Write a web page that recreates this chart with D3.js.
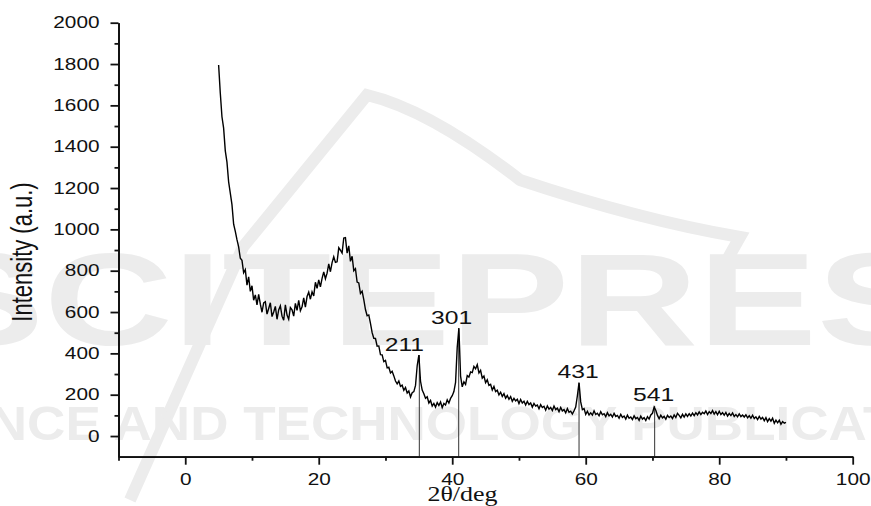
<!DOCTYPE html>
<html>
<head>
<meta charset="utf-8">
<script src="https://cdn.jsdelivr.net/npm/d3@7"></script>
<style>
  body { margin: 0; background: #fff; }
  svg { display: block; }
</style>
</head>
<body>
<div id="viz"></div>
<script>
// XRD pattern, intensity every 0.25 deg from 5.0 to 90.0
const angleStart = 5.0;
const angleStep = 0.25;
const intensity = [
  1795, 1660, 1545, 1490, 1380, 1325, 1230, 1175, 1120, 1025, 990, 950, 915, 860, 850, 790, 805, 730, 770, 700,
  727, 657, 683, 635, 685, 638, 599, 644, 650, 590, 617, 645, 578, 600, 627, 565, 610, 630, 580, 560,
  635, 585, 565, 622, 611, 580, 642, 608, 657, 606, 625, 668, 624, 675, 696, 662, 698, 678, 744, 715,
  756, 722, 763, 794, 761, 788, 833, 795, 839, 867, 840, 843, 911, 899, 885, 958, 960, 885, 920, 845,
  870, 800, 810, 745, 741, 690, 701, 660, 612, 582, 586, 545, 500, 473, 472, 435, 436, 394, 393, 360,
  366, 330, 333, 305, 313, 291, 266, 252, 266, 240, 246, 221, 235, 208, 218, 189, 210, 215, 245, 340,
  392, 265, 222, 205, 183, 190, 160, 172, 145, 158, 140, 162, 148, 165, 138, 158, 150, 175, 160, 182,
  195, 215, 260, 430, 522, 290, 238, 262, 250, 292, 285, 310, 307, 337, 325, 345, 305, 318, 280, 290,
  258, 272, 245, 250, 223, 240, 215, 222, 199, 212, 192, 205, 183, 196, 178, 191, 168, 182, 170, 178,
  157, 177, 160, 168, 150, 168, 152, 160, 140, 158, 145, 150, 132, 152, 138, 144, 125, 146, 130, 138,
  123, 145, 128, 135, 118, 138, 122, 128, 112, 133, 115, 120, 106, 122, 140, 195, 258, 165, 128, 133,
  105, 120, 102, 112, 101, 122, 104, 110, 98, 118, 103, 108, 94, 113, 98, 105, 92, 110, 95, 100,
  86, 105, 90, 97, 82, 101, 86, 92, 80, 98, 84, 90, 76, 96, 82, 89, 75, 94, 82, 102,
  110, 140, 125, 100, 84, 101, 88, 95, 81, 100, 90, 97, 85, 102, 90, 110, 100, 88, 105, 92,
  107, 95, 108, 97, 111, 99, 113, 102, 117, 104, 115, 108, 121, 104, 118, 109, 123, 106, 118, 103,
  120, 104, 113, 101, 114, 97, 109, 99, 112, 95, 104, 93, 107, 94, 102, 92, 103, 88, 98, 86,
  101, 85, 93, 80, 95, 82, 90, 74, 89, 70, 84, 72, 86, 62, 77, 64, 76, 57, 70, 62,
  66
];

// indexed reflections
const peakAngles = [35.07, 40.97, 59.0, 70.33];
const peakTops = [392, 522, 258, 146];
const peakLabels = ["211", "301", "431", "541"];

const xMajorTicks = [0, 20, 40, 60, 80, 100];
const xMinorTicks = [-10, 10, 30, 50, 70, 90];
const yMajorTicks = [0, 200, 400, 600, 800, 1000, 1200, 1400, 1600, 1800, 2000];
const yMinorTicks = [100, 300, 500, 700, 900, 1100, 1300, 1500, 1700, 1900];

const scan = intensity.map((v, i) => ({ angle: angleStart + i * angleStep, value: v }));

const W = 871, H = 506;
const stretch = "scale(1.3,1)";

const svg = d3.select("#viz")
              .append("svg")
              .attr("width", W)
              .attr("height", H);

svg.append("rect").attr("width", W).attr("height", H).attr("fill", "#fff");

// faint publisher watermark behind the plot
const wm = svg.append("g").attr("fill", "#ececec").attr("stroke", "none");
wm.append("path")
  .attr("d", "M130,500 L243,247 L367,95 Q430,110 520,180 Q640,220 740,237 L723,267")
  .attr("fill", "none")
  .attr("stroke", "#ececec")
  .attr("stroke-width", 12);
wm.append("text")
  .attr("x", -75)
  .attr("y", 345)
  .attr("textLength", 1130)
  .attr("lengthAdjust", "spacingAndGlyphs")
  .style("font-family", "'Liberation Sans', Arial, sans-serif")
  .style("font-weight", "bold")
  .style("font-size", "132px")
  .text("SCITEPRESS");
wm.append("text")
  .attr("x", -135)
  .attr("y", 440)
  .attr("textLength", 1160)
  .attr("lengthAdjust", "spacingAndGlyphs")
  .style("font-family", "'Liberation Sans', Arial, sans-serif")
  .style("font-weight", "bold")
  .style("font-size", "49px")
  .text("SCIENCE AND TECHNOLOGY PUBLICATIONS");

const x = d3.scaleLinear()
            .domain([-10, 100])
            .range([118.5, 852.7]);

const y = d3.scaleLinear()
            .domain([-100, 2000])
            .range([456.7, 22.7]);

// drop lines for the indexed peaks
svg.selectAll(".drop")
   .data(peakAngles)
   .enter()
   .append("line")
   .attr("class", "drop")
   .attr("x1", d => x(d))
   .attr("x2", d => x(d))
   .attr("y1", (d, i) => y(peakTops[i]))
   .attr("y2", y(-100))
   .attr("stroke", "#333")
   .attr("stroke-width", 1);

// the scan itself
const line = d3.line()
               .x(d => x(d.angle))
               .y(d => y(d.value));

svg.append("path")
   .datum(scan)
   .attr("d", line)
   .attr("fill", "none")
   .attr("stroke", "#000")
   .attr("stroke-width", 1.4)
   .attr("stroke-linejoin", "miter");

// peak labels
const labelShift = [-15, -7, -1, -1];
svg.selectAll(".peak-label")
   .data(peakLabels)
   .enter()
   .append("text")
   .attr("class", "peak-label")
   .attr("transform", (d, i) => `translate(${x(peakAngles[i]) + labelShift[i]},${y(peakTops[i]) - 4.5}) ${stretch}`)
   .attr("text-anchor", "middle")
   .style("font-family", "'Liberation Sans', Arial, sans-serif")
   .style("font-size", "19px")
   .style("fill", "#111")
   .text(d => d);

// axes
function styleAxis(g) {
  g.select(".domain").attr("stroke", "#111").attr("stroke-width", 1.8);
  g.selectAll(".tick line").attr("stroke", "#111").attr("stroke-width", 1.8);
  g.selectAll("text")
   .style("font-family", "'Liberation Sans', Arial, sans-serif")
   .style("font-size", "16px")
   .style("fill", "#111");
}

svg.append("g")
   .attr("transform", `translate(0,${y(-100)})`)
   .call(d3.axisBottom(x).tickValues(xMinorTicks).tickSize(4).tickSizeOuter(0).tickFormat(""))
   .call(styleAxis);

svg.append("g")
   .attr("transform", `translate(0,${y(-100)})`)
   .call(d3.axisBottom(x).tickValues(xMajorTicks).tickSize(8).tickPadding(9).tickSizeOuter(0).tickFormat(d3.format("d")))
   .call(styleAxis)
   .selectAll("text")
   .attr("transform", stretch);

svg.append("g")
   .attr("transform", `translate(${x(-10)},0)`)
   .call(d3.axisLeft(y).tickValues(yMinorTicks).tickSize(4).tickSizeOuter(0).tickFormat(""))
   .call(styleAxis);

svg.append("g")
   .attr("transform", `translate(${x(-10)},0)`)
   .call(d3.axisLeft(y).tickValues(yMajorTicks).tickSize(8).tickPadding(6.6).tickSizeOuter(0).tickFormat(d3.format("d")))
   .call(styleAxis)
   .selectAll("text")
   .attr("transform", stretch);

// axis titles
svg.append("text")
   .attr("transform", `translate(22,252) ${stretch} rotate(-90)`)
   .attr("text-anchor", "middle")
   .attr("dy", "0.35em")
   .style("font-family", "'Liberation Sans', Arial, sans-serif")
   .style("font-size", "22px")
   .style("fill", "#111")
   .text("Intensity (a.u.)");

svg.append("text")
   .attr("transform", `translate(462.5,501) ${stretch}`)
   .attr("text-anchor", "middle")
   .style("font-family", "'Liberation Serif', 'Times New Roman', serif")
   .style("font-size", "20px")
   .style("fill", "#111")
   .text("2θ/deg");
</script>
</body>
</html>
